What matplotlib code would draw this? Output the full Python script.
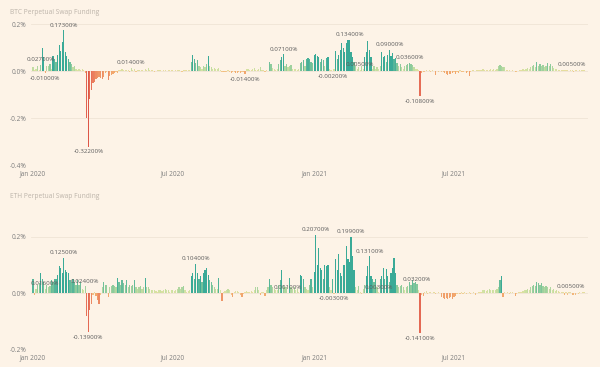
import numpy as np
import pandas as pd
import matplotlib
matplotlib.use("Agg")
import matplotlib.pyplot as plt
from matplotlib.colors import to_rgb

plt.rcParams['font.family'] = ['Open Sans', 'DejaVu Sans']

# funding rate in %, one bar per 2 days starting 2020-01-01 (15 bars per line ~ 30 days)
btc_funding = [
    0.015, 0.005, 0.01, 0.02, 0.005, 0.027, 0.096, 0.06, -0.01, 0.02, 0.02, 0.03, 0.01, 0.065, 0.05,
    0.04, 0.07, 0.11, 0.085, 0.125, 0.173, 0.08, 0.065, 0.05, 0.04, 0.03, 0.015, 0.02, 0.01, 0.005,
    0.01, 0.005, 0.008, 0.003, -0.01, -0.2, -0.322, -0.12, -0.08, -0.05, -0.045, -0.035, -0.03, -0.025, -0.03,
    -0.035, -0.025, -0.01, -0.005, -0.04, -0.02, -0.015, -0.012, -0.01, -0.005, -0.008, 0.003, 0.005, 0.008, 0.004,
    0.006, 0.005, 0.004, -0.004, 0.014, 0.003, 0.007, -0.003, 0.004, 0.006, 0.002, 0.005, -0.002, 0.008, 0.004,
    0.012, 0.004, 0.003, 0.005, -0.003, 0.002, 0.004, 0.006, 0.003, -0.002, 0.003, 0.005, 0.002, 0.004, 0.003,
    0.003, 0.005, -0.002, 0.004, 0.003, 0.006, 0.002, -0.003, 0.004, 0.003, 0.005, 0.003, 0.006, 0.04, 0.068,
    0.05, 0.035, 0.045, 0.02, 0.015, 0.01, 0.02, 0.015, 0.03, 0.064, 0.02, 0.015, 0.01, 0.012, 0.008,
    0.01, 0.012, 0.005, -0.004, -0.006, -0.005, -0.003, 0.003, -0.005, -0.008, -0.006, -0.004, -0.01, -0.008, -0.006,
    -0.008, -0.004, -0.006, -0.014, 0.008, 0.01, 0.005, 0.004, 0.008, 0.012, 0.005, 0.003, 0.01, 0.015, 0.006,
    0.005, -0.004, 0.003, 0.002, 0.04, 0.03, 0.012, 0.008, 0.006, 0.01, 0.03, 0.045, 0.06, 0.071, 0.02,
    0.03, 0.015, 0.02, 0.025, 0.01, 0.008, 0.01, 0.006, 0.01, 0.035, 0.04, 0.045, 0.02, 0.05, 0.055,
    0.05, 0.04, 0.035, 0.07, 0.072, 0.065, 0.06, 0.04, 0.05, 0.045, 0.02, 0.055, 0.06, 0.01, 0.005,
    -0.002, 0.01, 0.085, 0.05, 0.07, 0.09, 0.118, 0.1, 0.08, 0.12, 0.13, 0.134, 0.08, 0.06, 0.04,
    0.02, 0.01, 0.015, 0.005, 0.02, 0.01, 0.06, 0.08, 0.128, 0.09, 0.06, 0.01, 0.02, 0.01, 0.015,
    0.01, 0.02, 0.08, 0.06, 0.065, 0.04, 0.07, 0.09, 0.065, 0.075, 0.05, 0.055, 0.035, 0.02, 0.03,
    0.015, 0.01, 0.02, 0.025, 0.03, 0.036, 0.03, 0.025, 0.015, 0.01, 0.008, 0.004, -0.108, -0.01, -0.005,
    -0.004, 0.003, 0.002, 0.004, -0.003, 0.003, -0.002, -0.015, 0.002, -0.003, 0.002, -0.004, -0.006, -0.01, -0.012,
    -0.015, -0.012, -0.014, -0.01, -0.005, -0.012, -0.004, -0.008, 0.003, -0.006, -0.005, 0.002, -0.01, -0.004, -0.02,
    -0.003, 0.003, 0.004, 0.002, 0.005, 0.003, 0.004, 0.006, 0.007, 0.004, 0.005, 0.003, 0.006, 0.008, 0.005,
    0.008, 0.006, 0.01, 0.02, 0.025, 0.022, 0.018, 0.015, 0.005, 0.003, 0.004, 0.002, 0.003, 0.001, -0.006,
    -0.004, 0.002, 0.004, 0.005, 0.008, 0.006, 0.01, 0.012, 0.01, 0.015, 0.02, 0.025, 0.015, 0.04, 0.02,
    0.03, 0.02, 0.025, 0.015, 0.02, 0.035, 0.02, 0.03, 0.02, 0.012, 0.008, 0.01, 0.006, 0.005, 0.004,
    0.004, 0.005, 0.003, 0.004, 0.002, 0.003, 0.005, -0.004, 0.003, 0.004, 0.002, 0.003, 0.005, 0.004, 0.005,
]

eth_funding = [
    0.05, -0.008, 0.015, 0.03, 0.035, 0.07, 0.05, 0.04, 0.016, 0.03, 0.02, 0.025, 0.045, 0.04, 0.05,
    0.05, 0.065, 0.095, 0.09, 0.07, 0.125, 0.08, 0.075, 0.07, 0.045, 0.04, 0.05, 0.04, 0.03, 0.045,
    0.03, 0.04, 0.015, 0.01, 0.024, -0.08, -0.139, -0.06, -0.04, -0.005, 0.005, -0.01, -0.025, -0.04, -0.005,
    0.02, 0.04, 0.03, 0.028, -0.012, 0.02, 0.025, 0.03, 0.025, 0.02, 0.055, 0.04, 0.03, 0.045, 0.035,
    0.03, 0.045, 0.02, 0.03, 0.025, 0.03, 0.045, 0.02, 0.015, 0.02, 0.025, 0.015, 0.02, 0.055, 0.02,
    0.02, 0.015, 0.012, 0.01, 0.01, 0.008, 0.005, 0.01, 0.012, 0.008, 0.01, 0.015, 0.01, 0.012, 0.005,
    0.01, 0.012, 0.008, 0.01, 0.015, 0.02, 0.015, 0.02, 0.025, 0.01, 0.005, 0.008, 0.01, 0.06, 0.07,
    0.05, 0.104, 0.07, 0.05, 0.06, 0.04, 0.07, 0.08, 0.09, 0.065, 0.045, 0.04, 0.03, 0.02, 0.015,
    0.015, 0.052, 0.01, -0.028, 0.005, 0.008, 0.012, 0.015, 0.01, -0.005, -0.015, 0.003, 0.006, 0.008, 0.005,
    -0.006, -0.015, -0.004, 0.003, 0.008, 0.005, 0.004, 0.006, 0.003, 0.01, 0.02, 0.022, 0.012, -0.008, 0.005,
    0.005, -0.01, 0.012, 0.02, 0.05, 0.03, 0.02, 0.015, 0.01, 0.01, 0.03, 0.045, 0.083, 0.03, 0.02,
    0.02, 0.001, 0.055, 0.02, 0.015, 0.02, 0.01, 0.015, 0.005, 0.065, 0.06, 0.05, 0.02, 0.015, 0.01,
    0.03, 0.05, 0.02, 0.075, 0.207, 0.1, 0.16, 0.09, 0.08, 0.05, 0.1, 0.095, 0.1, 0.02, 0.01,
    0.05, -0.003, 0.12, 0.08, 0.14, 0.07, 0.06, 0.1, 0.1, 0.165, 0.12, 0.11, 0.199, 0.13, 0.08,
    0.02, 0.01, 0.025, 0.005, -0.003, 0.015, 0.03, 0.06, 0.095, 0.131, 0.06, 0.05, 0.04, 0.05, 0.02,
    0.003, 0.05, 0.06, 0.088, 0.05, 0.085, 0.06, 0.04, 0.07, 0.09, 0.124, 0.07, 0.03, 0.02, 0.025,
    0.03, 0.02, 0.01, 0.02, 0.025, 0.04, 0.03, 0.045, 0.035, 0.04, 0.032, 0.01, -0.141, -0.005, -0.01,
    0.004, 0.006, -0.003, 0.005, 0.003, 0.002, 0.004, -0.003, 0.002, 0.003, 0.002, -0.015, -0.018, -0.02, -0.016,
    -0.02, -0.018, -0.015, -0.02, -0.012, -0.01, -0.003, 0.002, -0.004, 0.003, -0.002, 0.003, -0.003, 0.002, 0.003,
    -0.003, 0.002, 0.003, -0.005, 0.002, 0.004, 0.003, 0.005, 0.01, 0.012, 0.008, 0.01, 0.015, 0.01, 0.012,
    0.01, 0.012, 0.015, 0.02, 0.045, 0.06, -0.012, 0.004, 0.002, 0.003, -0.002, 0.004, 0.003, 0.002, -0.01,
    -0.003, 0.003, 0.005, 0.004, 0.008, 0.01, 0.012, 0.015, 0.01, 0.02, 0.025, 0.03, 0.025, 0.04, 0.035,
    0.03, 0.035, 0.025, 0.02, 0.025, 0.02, 0.015, 0.02, 0.01, 0.015, 0.008, 0.012, 0.006, 0.005, 0.004,
    0.005, -0.008, 0.003, -0.005, 0.005, 0.005, -0.008, -0.007, -0.006, 0.002, -0.003, 0.003, 0.002, 0.004, 0.005,
]

# bars that carry a data label
btc_label_idx = [5, 8, 20, 36, 64, 138, 163, 195, 206, 213, 232, 245, 252, 351]
eth_label_idx = [8, 20, 34, 36, 106, 166, 184, 196, 207, 219, 225, 250, 252, 350]

tick_dates = ["2020-01-01", "2020-07-01", "2021-01-01", "2021-07-01"]
tick_labels = ["Jan 2020", "Jul 2020", "Jan 2021", "Jul 2021"]

bg = "#FDF3E7"
dates = pd.date_range("2020-01-01", periods=len(btc_funding), freq="2D")


def bar_colors(vals):
    stops = [-0.30, -0.06, -0.01, 0.0, 0.01, 0.03, 0.06]
    cols = ["#DD5647", "#E8735A", "#F2A96E", "#F2D99B", "#D3E2A3", "#8DCB9C", "#3AAA97"]
    rgb = np.array([to_rgb(c) for c in cols])
    return np.column_stack([np.interp(vals, stops, rgb[:, i]) for i in range(3)])


def draw(ax, vals, label_idx, ylim, yticks, title, title_y):
    vals = np.array(vals)
    ax.set_facecolor(bg)
    ax.bar(dates, vals, width=1.6, color=bar_colors(vals), linewidth=0)
    for i in label_idx:
        v = vals[i]
        ax.annotate(f"{v:.5f}%", (dates[i], v), xytext=(0, 1.8 if v >= 0 else -1.8),
                    textcoords="offset points", ha="center",
                    va="bottom" if v >= 0 else "top", fontsize=4.5, color="#5E5E5E")
    ax.set_ylim(ylim)
    ax.set_yticks(yticks)
    ax.set_yticklabels([f"{t:.1f}%" for t in yticks])
    ax.set_xlim(pd.Timestamp("2019-12-29"), pd.Timestamp("2021-12-24"))
    ax.set_xticks(pd.to_datetime(tick_dates))
    ax.set_xticklabels(tick_labels)
    ax.grid(axis="y", color="#EFE4D6", linewidth=0.6)
    ax.set_axisbelow(True)
    for s in ax.spines.values():
        s.set_visible(False)
    ax.tick_params(length=0, labelsize=4.7, colors="#7E7E7E")
    ax.tick_params(axis="x", pad=3.5)
    ax.tick_params(axis="y", pad=3)
    fig.text(10 / 600, title_y, title, fontsize=4.8, color="#BDB4AA", va="center")


fig = plt.figure(figsize=(6, 3.67), dpi=100, facecolor=bg)
ax1 = fig.add_axes([0.0512, 0.5504, 0.9293, 0.3842])
ax2 = fig.add_axes([0.0512, 0.0471, 0.9293, 0.3161])

draw(ax1, btc_funding, btc_label_idx, (-0.4, 0.2), [-0.4, -0.2, 0.0, 0.2],
     "BTC Perpetual Swap Funding", 1 - 12.7 / 367)
draw(ax2, eth_funding, eth_label_idx, (-0.2, 0.21), [-0.2, 0.0, 0.2],
     "ETH Perpetual Swap Funding", 1 - 196 / 367)

plt.savefig("out.png", dpi=100, facecolor=bg)
plt.close()
